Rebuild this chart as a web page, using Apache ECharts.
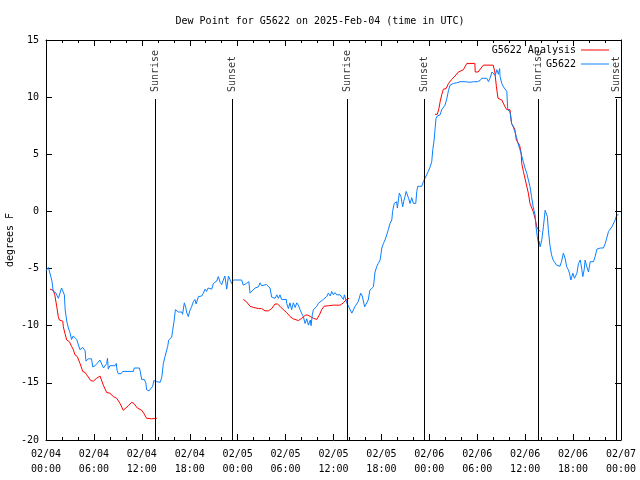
<!DOCTYPE html>
<html>
<head>
<meta charset="utf-8">
<script src="https://cdn.jsdelivr.net/npm/echarts@6/dist/echarts.min.js"></script>
<style>html,body{margin:0;padding:0;background:#fff}#c{width:640px;height:480px}</style>
</head>
<body>
<div id="c"></div>
<script>
const titleText = 'Dew Point for G5622 on 2025-Feb-04 (time in UTC)';
const tickLabels = ['02/04\n00:00','02/04\n06:00','02/04\n12:00','02/04\n18:00','02/05\n00:00','02/05\n06:00','02/05\n12:00','02/05\n18:00','02/06\n00:00','02/06\n06:00','02/06\n12:00','02/06\n18:00','02/07\n00:00'];
const sunNames = ['Sunrise','Sunset','Sunrise','Sunset','Sunrise','Sunset'];
const sunHours = [13.69, 23.33, 37.73, 47.37, 61.69, 71.45];

// Observed (G5622): hours since 02/04 00:00 UTC, dew point F
const obsHours = [0,0.3,0.6,0.75,0.9,1.2,1.55,1.95,2.1,2.3,2.4,2.6,2.8,3.0,3.2,3.4,3.85,4.0,4.25,4.4,4.6,4.9,5.0,5.3,5.5,5.7,5.85,6.15,6.4,6.5,6.75,6.9,7.2,7.4,7.6,7.7,7.8,8.0,8.2,8.65,8.8,8.9,9.05,9.4,9.6,10.95,11.05,11.7,11.8,11.98,12.3,12.5,12.6,12.9,13.1,13.36,13.5,13.7,13.86,14.3,14.5,14.7,14.9,15.0,15.24,15.36,15.6,15.74,15.86,16.03,16.2,16.37,16.57,16.8,17.0,17.1,17.32,17.5,17.6,17.82,18.0,18.2,18.45,18.65,18.8,19.08,19.5,19.7,19.92,20.1,20.3,20.54,20.75,20.96,21.37,21.58,21.8,22.0,22.2,22.4,22.63,22.85,23.0,23.24,23.45,24.5,24.7,24.9,25.1,25.4,25.55,25.75,26.17,26.6,26.8,27.0,27.2,27.6,28.05,28.26,28.68,28.9,29.1,29.3,29.5,30.1,30.14,30.35,30.55,30.76,30.97,31.2,31.4,31.6,31.81,32.0,32.22,32.44,32.65,32.86,33.1,33.19,33.35,33.48,33.7,33.9,34.1,34.3,34.72,35.15,35.35,35.6,35.77,35.98,36.2,36.4,36.82,37.24,37.37,37.55,37.7,37.95,38.3,38.5,38.7,39.1,39.4,39.6,39.9,40.1,40.35,40.55,40.8,41.0,41.2,41.4,41.6,41.84,42.05,42.25,42.45,42.66,42.86,43.08,43.3,43.4,43.6,43.9,44.0,44.24,44.45,44.66,44.8,44.95,45.1,45.4,45.58,45.8,46.0,46.3,46.43,46.55,47.05,47.25,47.46,47.66,47.87,48.1,48.3,48.43,48.6,48.7,48.84,49.0,49.35,49.55,49.76,49.97,50.2,50.4,50.6,51.0,51.4,51.84,52.5,53.1,53.3,53.5,54.0,54.35,54.56,54.8,55.2,55.4,55.6,55.84,56.05,56.25,56.45,56.65,56.8,56.86,57.07,57.28,57.7,57.82,58.1,58.3,58.5,58.7,58.9,59.1,59.35,59.55,59.77,59.98,60.2,60.4,60.6,60.8,61.0,61.24,61.36,61.52,61.66,61.75,61.87,62.08,62.28,62.5,62.61,62.78,62.9,63.1,63.3,63.5,63.72,63.93,64.35,64.55,64.78,65.0,65.2,65.4,65.55,65.72,65.97,66.17,66.35,66.48,66.68,66.9,67.1,67.22,67.39,67.51,67.72,67.93,68.14,68.55,68.76,68.98,69.4,69.8,70.03,70.44,70.65,70.86,71.05,71.27,71.47,71.7];
const obsDew = [-5.2,-4.9,-5.7,-6.1,-7.0,-7.1,-7.6,-6.7,-6.6,-7.3,-8.6,-9.6,-10.2,-10.6,-11.2,-10.9,-11.2,-11.3,-12.1,-12.2,-11.9,-12.2,-13.1,-12.9,-12.8,-12.9,-13.6,-13.5,-13.3,-13.2,-13.0,-13.1,-13.7,-13.7,-13.3,-12.85,-13.8,-13.5,-13.5,-13.5,-13.3,-13.9,-14.2,-14.2,-14.0,-14.0,-13.7,-13.7,-14.0,-14.7,-14.7,-15.0,-15.6,-15.7,-15.6,-15.3,-14.8,-14.7,-14.9,-14.95,-14.5,-13.3,-12.7,-12.8,-11.8,-11.25,-11.3,-11.0,-10.4,-9.65,-8.6,-8.5,-8.8,-8.7,-8.8,-9.0,-8.0,-8.4,-8.8,-9.2,-8.7,-8.4,-7.9,-7.7,-8.1,-7.45,-7.4,-7.15,-6.8,-7.0,-6.7,-6.6,-6.8,-6.3,-6.1,-5.7,-6.2,-6.4,-6.0,-5.65,-6.8,-5.65,-5.6,-6.3,-6.0,-6.0,-6.45,-6.6,-6.3,-6.15,-7.15,-7.15,-6.7,-6.6,-6.25,-6.5,-6.4,-6.4,-6.7,-7.5,-7.6,-7.3,-7.6,-7.3,-7.7,-7.7,-8.05,-8.5,-8.0,-8.6,-8.0,-8.4,-8.0,-8.2,-8.6,-8.9,-9.2,-9.8,-9.4,-9.95,-9.5,-10.0,-9.05,-8.6,-8.6,-8.3,-8.05,-7.9,-7.7,-7.45,-7.15,-7.4,-7.0,-7.3,-7.1,-7.3,-7.3,-7.7,-7.3,-7.75,-8.05,-8.1,-8.9,-8.9,-8.3,-7.9,-7.15,-7.4,-8.35,-8.35,-7.75,-6.9,-6.8,-6.6,-5.3,-4.85,-4.55,-4.25,-3.2,-2.8,-2.5,-2.05,-1.6,-1.05,-0.75,0.0,0.7,0.85,0.3,1.6,1.3,0.4,0.9,1.3,1.75,1.15,0.7,1.2,0.7,0.7,1.75,2.2,2.2,2.6,2.75,3.2,3.5,3.9,4.35,5.4,6.25,7.1,8.15,8.35,8.45,8.9,9.0,9.3,9.9,10.6,11.05,11.2,11.25,11.35,11.35,11.3,11.2,11.35,11.35,11.45,11.65,11.5,11.65,11.35,11.65,12.2,12.1,11.9,12.4,12.0,12.5,11.8,11.2,10.9,10.5,8.9,8.7,7.7,7.4,7.0,6.55,5.95,5.4,4.9,4.35,3.8,3.35,2.75,2.2,1.3,0.4,-0.3,-1.35,-2.2,-2.8,-2.6,-3.1,-2.5,-1.35,0.1,0.25,-0.45,-1.6,-2.95,-3.8,-4.25,-4.4,-4.7,-4.8,-4.4,-3.65,-4.1,-4.85,-5.1,-5.4,-6.0,-5.4,-5.85,-6.0,-5.4,-4.55,-4.25,-5.1,-5.7,-5.1,-4.25,-4.85,-5.3,-4.4,-4.4,-3.95,-3.3,-3.2,-3.2,-2.8,-1.75,-1.75,-1.35,-1.2,-0.75,-0.3,-0.3];

// Analysis (G5622 Analysis): null breaks the line between runs
const anaHours = [0.5,0.9,1.1,1.34,1.54,1.67,2.1,2.17,2.38,2.6,2.92,3.2,3.42,3.63,3.92,4.26,4.6,4.9,5.1,5.6,5.92,6.34,6.76,7.0,7.18,7.6,8.0,8.43,8.85,9.27,9.68,9.9,10.3,10.73,11.0,11.44,11.98,12.27,12.6,13.24,13.86,19.0,
24.7,25.1,25.55,25.97,26.6,27.0,27.43,27.85,28.26,28.68,29.0,29.3,29.72,30.14,30.56,30.97,31.6,32.02,32.44,32.7,33.1,33.48,33.9,34.24,34.52,34.82,35.36,36.0,36.82,37.24,37.54,37.95,43.0,
48.7,49.0,49.2,49.35,49.55,49.76,50.1,50.4,50.8,51.22,51.64,52.26,52.7,53.7,53.75,54.1,54.76,56.0,56.2,56.4,56.6,57.07,57.48,57.7,58.1,58.3,58.7,58.9,59.3,59.5,59.57,59.78,59.98,60.2,60.4,60.6,60.82,61.0,61.24,61.45,61.66,61.86];
const anaDew = [-6.8,-6.9,-7.3,-8.3,-9.2,-9.5,-9.6,-10.1,-10.7,-11.25,-11.4,-11.8,-12.1,-12.55,-12.7,-13.3,-14.0,-14.1,-14.3,-14.8,-14.85,-14.6,-14.4,-14.5,-15.2,-15.85,-15.9,-16.2,-16.35,-16.8,-17.4,-17.5,-17.0,-16.7,-16.8,-17.2,-17.4,-17.7,-18.1,-18.15,-18.1,null,
-7.7,-7.9,-8.3,-8.4,-8.5,-8.5,-8.7,-8.7,-8.5,-8.1,-8.1,-8.3,-8.6,-8.85,-9.2,-9.4,-9.55,-9.35,-9.1,-9.05,-9.2,-9.35,-9.45,-9.05,-8.6,-8.3,-8.25,-8.2,-8.2,-8.0,-7.75,-7.6,null,
8.5,8.5,9.0,9.6,10.2,10.7,10.75,11.2,11.55,11.85,12.2,12.4,12.95,12.95,12.2,12.2,12.8,12.8,12.2,10.9,9.9,9.75,9.15,8.9,8.9,7.7,7.2,6.25,5.8,5.1,4.2,3.5,3.35,2.2,1.6,0.7,0.55,0.0,-0.6,-1.35,-1.6,-1.75];

const FONT = 'DejaVu Sans Mono';
const obsData = obsHours.map((h, i) => [h, obsDew[i]]);
const anaData = anaHours.map((h, i) => [h, anaDew[i]]);
const sunLineTop = 9.84, sunLabelAt = 10.45;

const chart = echarts.init(document.getElementById('c'), null, {renderer: 'canvas'});
const txt = {fontFamily: FONT, fontSize: 10, color: '#000'};
const legendBase = {orient: 'vertical', align: 'right', icon: 'rect', itemWidth: 28, itemHeight: 1, padding: 0, itemGap: 0, textStyle: txt};
chart.setOption({
  animation: false,
  backgroundColor: '#fff',
  title: {text: titleText, left: 'center', top: 16, padding: 0, textStyle: Object.assign({fontWeight: 'normal'}, txt)},
  legend: [
    Object.assign({data: ['G5622 Analysis'], right: 31, top: 45}, legendBase),
    Object.assign({data: ['G5622'], right: 31, top: 59}, legendBase)
  ],
  grid: {left: 46, right: 19, top: 40, bottom: 40, containLabel: false, outerBoundsMode: 'none'},
  xAxis: [
    {type: 'value', min: 0, max: 72, interval: 6, position: 'bottom',
     axisLine: {show: true, onZero: false, lineStyle: {color: '#000', width: 1}},
     axisTick: {show: true, inside: true, length: 6, lineStyle: {color: '#000'}},
     minorTick: {show: true, splitNumber: 3, length: 3, lineStyle: {color: '#000'}},
     splitLine: {show: false},
     axisLabel: Object.assign({margin: 7, lineHeight: 15, formatter: v => tickLabels[Math.round(v / 6)]}, txt)},
    {type: 'value', min: 0, max: 72, interval: 6, position: 'top',
     axisLine: {show: true, onZero: false, lineStyle: {color: '#000', width: 1}},
     axisTick: {show: true, inside: true, length: 6, lineStyle: {color: '#000'}},
     minorTick: {show: true, splitNumber: 3, length: 3, lineStyle: {color: '#000'}},
     splitLine: {show: false}, axisLabel: {show: false}}
  ],
  yAxis: [
    {type: 'value', min: -20, max: 15, interval: 5, position: 'left',
     name: 'degrees F', nameLocation: 'middle', nameGap: 31, nameRotate: 90, nameMoveOverlap: false,
     nameTextStyle: txt,
     axisLine: {show: true, onZero: false, lineStyle: {color: '#000', width: 1}},
     axisTick: {show: true, inside: true, length: 6, lineStyle: {color: '#000'}},
     splitLine: {show: false},
     axisLabel: Object.assign({margin: 7}, txt)},
    {type: 'value', min: -20, max: 15, interval: 5, position: 'right',
     axisLine: {show: true, onZero: false, lineStyle: {color: '#000', width: 1}},
     axisTick: {show: true, inside: true, length: 6, lineStyle: {color: '#000'}},
     splitLine: {show: false}, axisLabel: {show: false}}
  ],
  series: [
    {name: 'Sun', type: 'scatter', xAxisIndex: 0, yAxisIndex: 0, symbolSize: 0, silent: true,
     data: sunHours.map((h, i) => ({name: sunNames[i], value: [h, sunLabelAt]})),
     label: {show: true, formatter: p => p.name, position: [0, 0], rotate: 90, align: 'left', verticalAlign: 'middle', fontFamily: FONT, fontSize: 10, color: '#000'},
     markLine: {silent: true, symbol: ['none', 'none'], animation: false, label: {show: false},
       lineStyle: {color: '#000', width: 1, type: 'solid'},
       data: sunHours.map(h => [{coord: [h, -20]}, {coord: [h, sunLineTop]}])}},
    {name: 'G5622 Analysis', type: 'line', data: anaData, symbol: 'none', connectNulls: false,
     lineStyle: {color: '#ff0000', width: 1}, itemStyle: {color: '#ff0000'}},
    {name: 'G5622', type: 'line', data: obsData, symbol: 'none',
     lineStyle: {color: '#0a80ff', width: 1}, itemStyle: {color: '#0a80ff'}}
  ]
});
</script>
</body>
</html>
